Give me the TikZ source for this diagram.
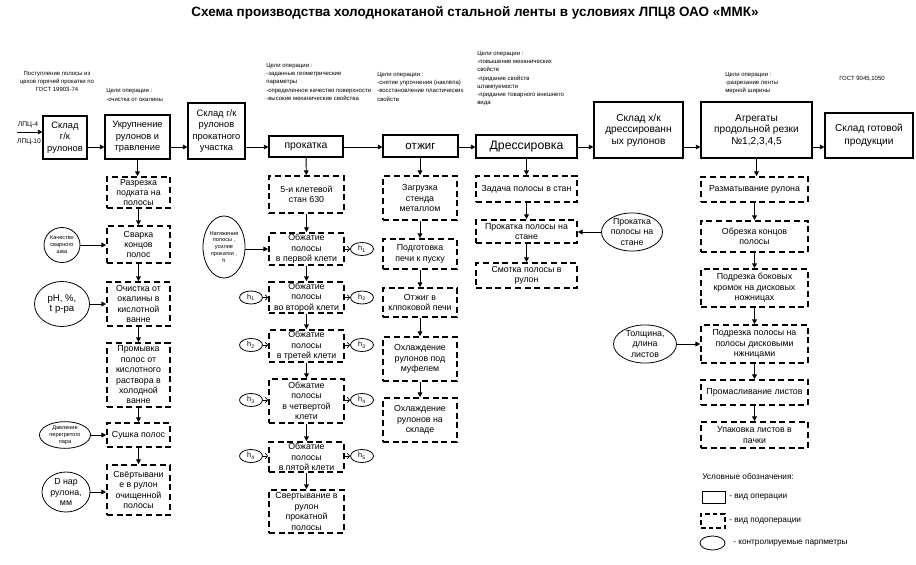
\documentclass[tikz,border=0pt]{standalone}
\usepackage{fontspec}
\setmainfont{Liberation Sans}
\usetikzlibrary{arrows.meta}
\usetikzlibrary{shapes.geometric}

\tikzset{
  sz/.style 2 args={minimum width=#1*0.75pt, minimum height=#2*0.75pt},
  opbox/.style={draw, line width=0.8pt, inner sep=0pt, align=center, font=\fontsize{7}{8.6}\selectfont},
  subbox/.style={draw, line width=1.3pt, dash pattern=on 4.5pt off 2.8pt, inner sep=0pt, align=center, font=\fontsize{6.6}{7.8}\selectfont},
  parm/.style={draw, ellipse, line width=0.6pt, inner sep=0pt, align=center, font=\fontsize{6.6}{7.8}\selectfont},
  tinyparm/.style={parm, font=\fontsize{4.2}{5.2}\selectfont},
  hpar/.style={parm, sz={23}{13}, font=\fontsize{5.5}{6}\selectfont},
  goal/.style={anchor=north west, align=left, inner sep=0pt, font=\fontsize{4.5}{6.2}\selectfont},
  legtext/.style={anchor=west, inner sep=0pt, font=\fontsize{6.2}{7}\selectfont},
  flow/.style={-{Triangle[length=3.5pt,width=3.5pt]}, line width=0.7pt},
  hflow/.style={-{Straight Barb[length=1.8pt,width=4pt]}, line width=0.5pt},
}

\begin{document}
\begin{tikzpicture}[x=0.75pt, y=-0.75pt]
\useasboundingbox (0,0) rectangle (916,564);

\node[font=\bfseries\fontsize{10.1}{11}\selectfont] (title) at (475,13) {Схема производства холоднокатаной стальной ленты в условиях ЛПЦ8 ОАО «ММК»};

\node[align=center, inner sep=0pt, font=\fontsize{4.5}{6}\selectfont] (gost1) at (57,81) {Поступление полосы из\\цехов горячей прокатки по\\ГОСТ 19903-74};
\node[goal] (goalukr) at (106,88) {Цели операции :\\[1pt]-очистка от окалины};
\node[goal] (goalprok) at (266,63) {Цели операции :\\-заданные геометрические\\параметры\\-определенное качество поверхности\\-высокие механические свойства};
\node[goal] (goalotzh) at (377,72) {Цели операции :\\-снятие упрочнения (наклёпа)\\-восстановление пластических\\свойств};
\node[goal] (goaldres) at (477,51) {Цели операции :\\-повышение механических\\свойств\\-придание свойств\\штампуемости\\-придание товарного внешнего\\вида};
\node[goal] (goalagr) at (725,72) {Цели операции :\\-разрезание ленты\\мерной ширины};
\node[inner sep=0pt, font=\fontsize{4.5}{6}\selectfont] (gost2) at (862,79) {ГОСТ 9045,1050};

\node[inner sep=0pt, font=\fontsize{5}{6}\selectfont] (lpc4) at (28,125) {ЛПЦ-4};
\node[inner sep=0pt, font=\fontsize{5}{6}\selectfont] (lpc10) at (29,142) {ЛПЦ-10};
\coordinate (lpc) at (17,132);

\node[opbox, sz={44}{43}] (sklad1) at (65,137.5) {Склад\\г/к\\рулонов};
\node[opbox, sz={65}{44}] (ukr) at (137.5,137) {Укрупнение\\рулонов и\\травление};
\node[opbox, sz={57}{56}] (sklad2) at (216.5,131) {Склад г/к\\рулонов\\прокатного\\участка};
\node[opbox, sz={74}{21}, font=\fontsize{7.8}{9}\selectfont] (prok) at (306,146.5) {прокатка};
\node[opbox, sz={75}{22}, font=\fontsize{8.6}{10}\selectfont] (otzh) at (420.5,146) {отжиг};
\node[opbox, sz={101}{23}, font=\fontsize{9.2}{10}\selectfont] (dres) at (526.5,146.5) {Дрессировка};
\node[opbox, sz={89}{56}, font=\fontsize{7.6}{8.6}\selectfont] (sklad3) at (638.5,130) {Склад х/к\\дрессированн\\ых рулонов};
\node[opbox, sz={111}{56}, font=\fontsize{7.6}{8.6}\selectfont] (agr) at (756.5,130) {Агрегаты\\продольной резки\\№1,2,3,4,5};
\node[opbox, sz={88}{45}, font=\fontsize{7.6}{9.5}\selectfont] (sklad4) at (869,135.5) {Склад готовой\\продукции};

\coordinate (row) at (0,147);
\draw[flow] (lpc) -- (lpc -| sklad1.west);
\draw[flow] (sklad1.east |- row) -- (ukr.west |- row);
\draw[flow] (ukr.east |- row) -- (sklad2.west |- row);
\draw[flow] (sklad2.east |- row) -- (prok.west |- row);
\draw[flow] (prok.east |- row) -- (otzh.west |- row);
\draw[flow] (otzh.east |- row) -- (dres.west |- row);
\draw[flow] (dres.east |- row) -- (sklad3.west |- row);
\draw[flow] (sklad3.east |- row) -- (agr.west |- row);
\draw[flow] (agr.east |- row) -- (sklad4.west |- row);

\node[subbox, sz={63}{31}] (razr) at (138.5,192.5) {Разрезка\\подката на\\полосы};
\node[subbox, sz={63}{37}] (svar) at (138.5,244.5) {Сварка\\концов\\полос};
\node[subbox, sz={63}{44}] (ochi) at (138.5,304) {Очистка от\\окалины в\\кислотной\\ванне};
\node[subbox, sz={63}{64}] (prom) at (138.5,375) {Промывка\\полос от\\кислотного\\раствора в\\холодной\\ванне};
\node[subbox, sz={63}{24}] (sush) at (138.5,435) {Сушка полос};
\node[subbox, sz={63}{50}] (sver1) at (138.5,490) {Свёртывани\\е в рулон\\очищенной\\полосы};

\node[tinyparm, sz={36}{35}] (kach) at (62,245) {Качество\\сварного\\шва};
\node[parm, sz={55}{45}, font=\fontsize{7.2}{7.8}\selectfont] (ph) at (62,304) {pH, \%,\\t р-ра};
\node[tinyparm, sz={51}{26}] (davl) at (65,435) {Давление\\перегретого\\пара};
\node[parm, sz={48}{40}] (dnar) at (66,492) {D нар\\рулона,\\мм};

\draw[flow] (ukr.south) -- (ukr.south |- razr.north);
\draw[flow] (razr) -- (svar);
\draw[flow] (svar) -- (ochi);
\draw[flow] (ochi) -- (prom);
\draw[flow] (prom) -- (sush);
\draw[flow] (sush) -- (sver1);
\draw[flow] (kach.east) -- (kach.east -| svar.west);
\draw[flow] (ph.east) -- (ph.east -| ochi.west);
\draw[flow] (davl.east) -- (davl.east -| sush.west);
\draw[flow] (dnar.east) -- (dnar.east -| sver1.west);

\node[subbox, sz={75}{37}] (stan) at (306.5,194.5) {5-и клетевой\\стан 630};
\node[subbox, sz={75}{32}] (obzh1) at (306.5,249) {Обжатие\\полосы\\в первой клети};
\node[subbox, sz={75}{31}] (obzh2) at (306.5,297.5) {Обжатие\\полосы\\во второй клети};
\node[subbox, sz={75}{32}] (obzh3) at (306.5,346) {Обжатие\\полосы\\в третей клети};
\node[subbox, sz={75}{44}] (obzh4) at (306.5,401) {Обжатие\\полосы\\в четвертой\\клети};
\node[subbox, sz={75}{30}] (obzh5) at (306.5,457) {Обжатие\\полосы\\в пятой клети};
\node[subbox, sz={75}{43}] (sver2) at (306.5,511.5) {Свертывание в\\рулон\\прокатной\\полосы};

\node[tinyparm, sz={42}{62}] (natyazh) at (224,247) {Натяжение\\полосы ,\\усилие\\прокатки ,\\h};
\node[hpar] (hout1) at (362,249) {h\textsubscript{1}};
\node[hpar] (hout2) at (362,297.5) {h\textsubscript{2}};
\node[hpar] (hout3) at (362,345) {h\textsubscript{3}};
\node[hpar] (hout4) at (362,400) {h\textsubscript{4}};
\node[hpar] (hout5) at (362,456) {h\textsubscript{5}};
\node[hpar] (hin1) at (251,297.5) {h\textsubscript{1}};
\node[hpar] (hin2) at (251,345) {h\textsubscript{2}};
\node[hpar] (hin3) at (251,400) {h\textsubscript{3}};
\node[hpar] (hin4) at (251,456) {h\textsubscript{4}};

\draw[flow] (prok) -- (stan);
\draw[flow] (stan) -- (obzh1);
\draw[flow] (obzh1) -- (obzh2);
\draw[flow] (obzh2) -- (obzh3);
\draw[flow] (obzh3) -- (obzh4);
\draw[flow] (obzh4) -- (obzh5);
\draw[flow] (obzh5) -- (sver2);
\draw[flow] (natyazh.east |- obzh1) -- (obzh1.west);
\draw[hflow] (obzh1.east |- hout1) -- (hout1.west);
\draw[hflow] (obzh2.east |- hout2) -- (hout2.west);
\draw[hflow] (obzh3.east |- hout3) -- (hout3.west);
\draw[hflow] (obzh4.east |- hout4) -- (hout4.west);
\draw[hflow] (obzh5.east |- hout5) -- (hout5.west);
\draw[hflow] (hin1.east) -- (hin1.east -| obzh2.west);
\draw[hflow] (hin2.east) -- (hin2.east -| obzh3.west);
\draw[hflow] (hin3.east) -- (hin3.east -| obzh4.west);
\draw[hflow] (hin4.east) -- (hin4.east -| obzh5.west);

\node[subbox, sz={74}{44}] (zagr) at (420,198) {Загрузка\\стенда\\металлом};
\node[subbox, sz={74}{30}] (podg) at (420,254) {Подготовка\\печи к пуску};
\node[subbox, sz={74}{29}] (otzhpech) at (420,302.5) {Отжиг в\\клпоковой печи};
\node[subbox, sz={74}{44}] (ohl1) at (420,359) {Охлаждение\\рулонов под\\муфелем};
\node[subbox, sz={74}{44}] (ohl2) at (420,420) {Охлаждение\\рулонов на\\складе};

\draw[flow] (otzh.south -| zagr.north) -- (zagr.north);
\draw[flow] (zagr) -- (podg);
\draw[flow] (podg) -- (otzhpech);
\draw[flow] (otzhpech) -- (ohl1);
\draw[flow] (ohl1) -- (ohl2);

\node[subbox, sz={101}{26}] (zad) at (526.5,189) {Задача полосы в стан};
\node[subbox, sz={101}{23}] (prst) at (526.5,231.5) {Прокатка полосы на\\стане};
\node[subbox, sz={101}{25}] (smot) at (526.5,275.5) {Смотка полосы в\\рулон};
\node[parm, sz={61}{31}] (prstpar) at (632,232) {Прокатка\\полосы на\\стане};

\draw[flow] (dres) -- (zad);
\draw[flow] (zad) -- (prst);
\draw[flow] (prst) -- (smot);
\draw[flow] (prstpar.west) -- (prstpar.west -| prst.east);

\node[subbox, sz={107}{25}] (razm) at (754.5,189.5) {Разматывание рулона};
\node[subbox, sz={107}{31}] (obr) at (754.5,236.5) {Обрезка концов\\полосы};
\node[subbox, sz={107}{38}] (podr1) at (754.5,288) {Подрезка боковых\\кромок на дисковых\\ножницах};
\node[subbox, sz={107}{38}] (podr2) at (754.5,344) {Подрезка полосы на\\полосы дисковыми\\нжницами};
\node[subbox, sz={107}{25}] (masl) at (754.5,392.5) {Промасливание листов};
\node[subbox, sz={107}{26}] (upak) at (754.5,435) {Упаковка листов в\\пачки};
\node[parm, sz={63}{34}] (tolsh) at (645,344) {Толщина,\\длина\\листов};

\draw[flow] (agr.south) -- (agr.south |- razm.north);
\draw[flow] (razm) -- (obr);
\draw[flow] (obr) -- (podr1);
\draw[flow] (podr1) -- (podr2);
\draw[flow] (podr2) -- (masl);
\draw[flow] (masl) -- (upak);
\draw[flow] (tolsh.east) -- (tolsh.east -| podr2.west);

\node[legtext] (legtitle) at (702,477) {Условные обозначения:};
\node[draw, line width=0.7pt, sz={23}{12}] (legop) at (713.5,497) {};
\node[draw, line width=1.3pt, dash pattern=on 3.5pt off 2.2pt, sz={24}{14}] (legsub) at (713,521) {};
\node[draw, ellipse, line width=0.6pt, sz={25}{14}] (legpar) at (712.5,543) {};
\node[legtext] (legoptext) at (729,497) {- вид операции};
\node[legtext] (legsubtext) at (729,521) {- вид подоперации};
\node[legtext] (legpartext) at (733,543) {- контролируемые парпметры};

\end{tikzpicture}
\end{document}
